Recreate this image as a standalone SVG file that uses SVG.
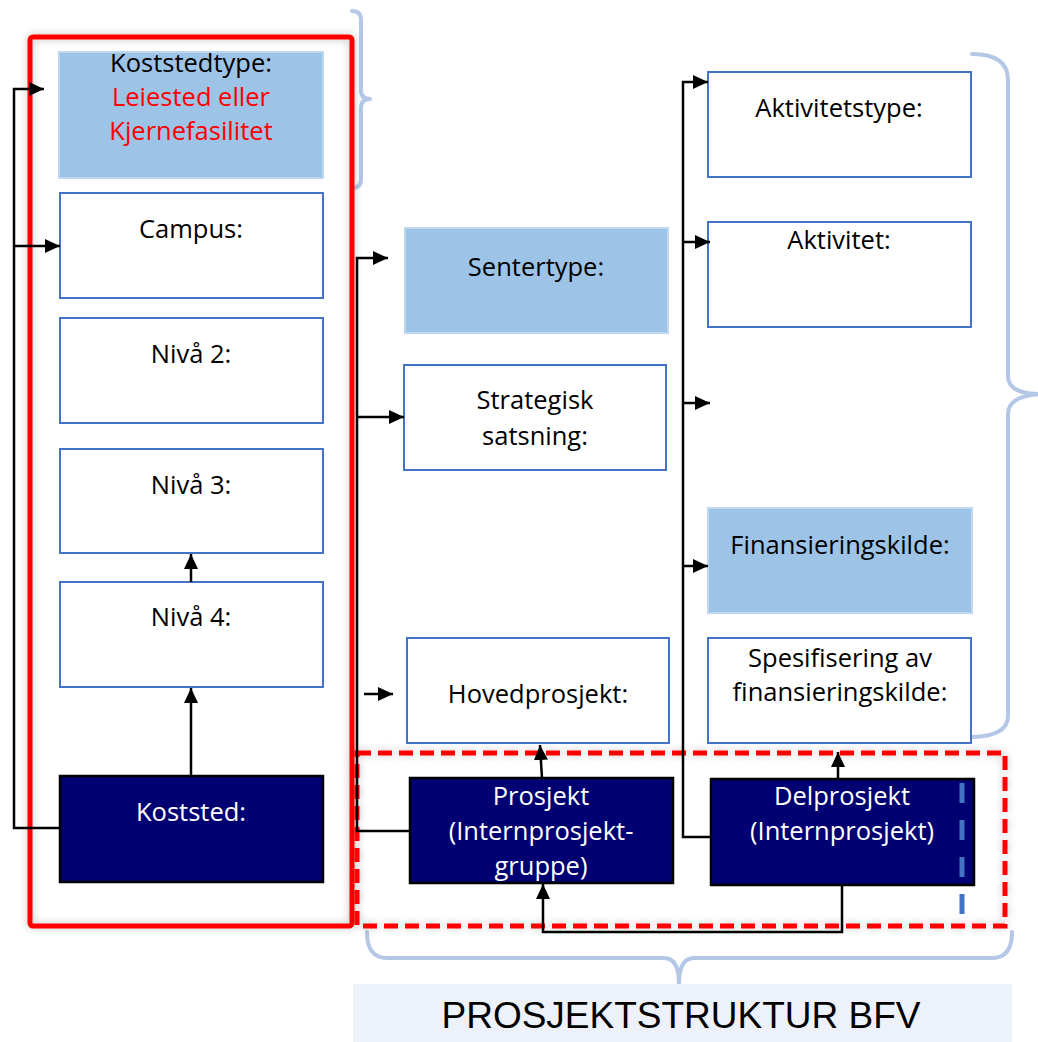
<svg xmlns="http://www.w3.org/2000/svg" width="1038" height="1042" viewBox="0 0 1038 1042">
<style>
.box{fill:#ffffff;stroke:#4472c4;stroke-width:2}
.fill{fill:#9dc3e6;stroke:#bdd7ee;stroke-width:2}
.dark{fill:#000072;stroke:#000000;stroke-width:2.5}
.t{font-family:"Open Sans",Lato,sans-serif;font-size:25.5px;fill:#000000;text-anchor:middle}
.w{fill:#ffffff}
.r{fill:#ff0000}
.c{fill:none;stroke:#000000;stroke-width:2.5}
.brace{fill:none;stroke:#b4c7e7;stroke-width:4;stroke-linecap:round;stroke-linejoin:round}
</style>
<defs>
<marker id="ah" markerUnits="userSpaceOnUse" markerWidth="16" markerHeight="14" refX="15" refY="7" orient="auto">
<path d="M0,0 L15,7 L0,14 z" fill="#000000"/>
</marker>
<filter id="sh" x="-10%" y="-10%" width="120%" height="120%">
<feGaussianBlur in="SourceAlpha" stdDeviation="4"/>
<feComponentTransfer><feFuncA type="linear" slope="0.25"/></feComponentTransfer>
<feMerge><feMergeNode/><feMergeNode in="SourceGraphic"/></feMerge>
</filter>
</defs>
<rect width="1038" height="1042" fill="#ffffff"/>

<!-- braces -->
<g id="braces">
<path class="brace" d="M352,11 Q361,11 361,20 V90 Q361,99 370,99 Q361,99 361,108 V179 Q361,188 352,188"/>
<path class="brace" d="M972,54 Q1008,54 1008,80 V376 Q1008,394 1040,394 Q1008,396 1008,414 V716 Q1008,736 972,737"/>
<path class="brace" d="M367,932 Q367,958 387,958 H664 Q679,958 679,984 Q679,958 694,958 H992 Q1012,958 1012,932"/>
</g>

<!-- frames -->
<g id="frame-koststed">
<rect x="30" y="37" width="322" height="889" rx="3" fill="none" stroke="#ff0000" stroke-width="5" filter="url(#sh)"/>
</g>
<g id="frame-prosjekt">
<rect x="357" y="753" width="648" height="173" fill="none" stroke="#ff0000" stroke-width="5" stroke-dasharray="14 7" filter="url(#sh)"/>
</g>

<!-- nodes -->
<g id="koststedtype">
<rect class="fill" x="59" y="52" width="264" height="126"/>
<text class="t" x="191" y="72">Koststedtype:</text>
<text class="t r" x="191" y="106">Leiested eller</text>
<text class="t r" x="191" y="140">Kjernefasilitet</text>
</g>
<g id="campus">
<rect class="box" x="60" y="193" width="263" height="105"/>
<text class="t" x="191" y="238">Campus:</text>
</g>
<g id="niva2">
<rect class="box" x="60" y="318" width="263" height="105"/>
<text class="t" x="191" y="363">Nivå 2:</text>
</g>
<g id="niva3">
<rect class="box" x="60" y="449" width="263" height="104"/>
<text class="t" x="191" y="494">Nivå 3:</text>
</g>
<g id="niva4">
<rect class="box" x="60" y="582" width="263" height="105"/>
<text class="t" x="191" y="626">Nivå 4:</text>
</g>
<g id="koststed">
<rect class="dark" x="60" y="776" width="263" height="106"/>
<text class="t w" x="191" y="821">Koststed:</text>
</g>

<g id="sentertype">
<rect class="fill" x="405" y="228" width="263" height="105"/>
<text class="t" x="536" y="276">Sentertype:</text>
</g>
<g id="strategisk">
<rect class="box" x="404" y="365" width="262" height="105"/>
<text class="t" x="535" y="409">Strategisk</text>
<text class="t" x="535" y="445">satsning:</text>
</g>
<g id="hovedprosjekt">
<rect class="box" x="407" y="638" width="262" height="105"/>
<text class="t" x="538" y="703">Hovedprosjekt:</text>
</g>
<g id="prosjekt">
<rect class="dark" x="410" y="778" width="263" height="105"/>
<text class="t w" x="541" y="805">Prosjekt</text>
<text class="t w" x="541" y="840">(Internprosjekt-</text>
<text class="t w" x="541" y="875">gruppe)</text>
</g>

<g id="aktivitetstype">
<rect class="box" x="708" y="72" width="263" height="105"/>
<text class="t" x="839" y="117">Aktivitetstype:</text>
</g>
<g id="aktivitet">
<rect class="box" x="708" y="222" width="263" height="105"/>
<text class="t" x="839" y="249">Aktivitet:</text>
</g>
<g id="finansieringskilde">
<rect class="fill" x="708" y="508" width="264" height="105"/>
<text class="t" x="840" y="554">Finansieringskilde:</text>
</g>
<g id="spesifisering">
<rect class="box" x="708" y="638" width="263" height="105"/>
<text class="t" x="840" y="667">Spesifisering av</text>
<text class="t" x="840" y="701">finansieringskilde:</text>
</g>
<g id="delprosjekt">
<rect class="dark" x="711" y="779" width="263" height="106"/>
<text class="t w" x="842" y="805">Delprosjekt</text>
<text class="t w" x="842" y="840">(Internprosjekt)</text>
<line x1="962" y1="783" x2="962" y2="918" stroke="#4472c4" stroke-width="5" stroke-dasharray="20 17"/>
</g>

<!-- connectors -->
<g id="connectors">
<path class="c" d="M60,828 H14 V89 H44" marker-end="url(#ah)"/>
<path class="c" d="M14,246 H60" marker-end="url(#ah)"/>
<path class="c" d="M191,776 V688" marker-end="url(#ah)"/>
<path class="c" d="M191,582 V554" marker-end="url(#ah)"/>

<path class="c" d="M410,831 H357 V258 H388" marker-end="url(#ah)"/>
<path class="c" d="M357,417 H404" marker-end="url(#ah)"/>
<path class="c" d="M364,694 H393" marker-end="url(#ah)"/>
<path class="c" d="M542,778 L540,745" marker-end="url(#ah)"/>

<path class="c" d="M711,837 H683 V82 H708" marker-end="url(#ah)"/>
<path class="c" d="M683,242 H710" marker-end="url(#ah)"/>
<path class="c" d="M683,403 H710" marker-end="url(#ah)"/>
<path class="c" d="M683,566 H708" marker-end="url(#ah)"/>
<path class="c" d="M838,779 V752" marker-end="url(#ah)"/>

<path class="c" d="M842,885 V932 H543 V884" marker-end="url(#ah)"/>
</g>

<g id="label">
<rect x="353" y="984" width="659" height="58" fill="#edf2fa"/>
<text x="681" y="1028" font-family="'Liberation Sans',Arial,sans-serif" font-size="37" text-anchor="middle" fill="#000000">PROSJEKTSTRUKTUR BFV</text>
</g>
</svg>
